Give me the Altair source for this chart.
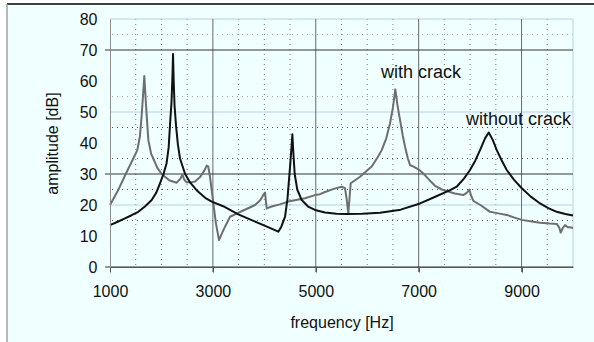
import altair as alt
import pandas as pd

# "with crack" (grey) curve
f_with = [1000, 1150, 1305, 1453, 1530, 1580, 1616, 1645, 1667, 1690, 1713, 1745, 1800, 1842,
          1920, 2005, 2150, 2296, 2370, 2407, 2440, 2490, 2580, 2652, 2750, 2830, 2880, 2911,
          2944, 2975, 3009, 3060, 3119, 3180, 3236, 3333, 3462, 3600, 3719, 3819, 3920, 3981,
          4013, 4046, 4143, 4300, 4467, 4640, 4791, 4985, 5082, 5180, 5350, 5504, 5568, 5600,
          5633, 5655, 5679, 5860, 6087, 6200, 6282, 6370, 6443, 6500, 6546, 6590, 6638, 6690,
          6735, 6790, 6832, 6910, 6994, 7080, 7156, 7240, 7318, 7450, 7545, 7700, 7868, 7940,
          7985, 8020, 8063, 8200, 8387, 8550, 8712, 8850, 9004, 9200, 9360, 9550, 9684, 9730,
          9761, 9800, 9845, 9900, 9943, 10000]
a_with = [20.0, 24.5, 30.0, 35.0, 37.7, 42.0, 49.0, 56.0, 61.6, 55.0, 49.0, 41.0, 36.5, 35.0,
          32.0, 30.0, 28.0, 27.2, 28.5, 29.9, 28.3, 27.3, 27.3, 27.6, 29.0, 31.0, 32.7, 32.4,
          29.1, 25.0, 20.5, 14.0, 8.7, 11.0, 13.0, 16.2, 17.2, 18.3, 19.2, 20.0, 21.5, 23.2,
          24.0, 18.9, 19.5, 20.2, 21.1, 21.7, 22.2, 23.2, 23.5, 24.2, 25.2, 25.9, 25.4, 22.0,
          17.3, 22.0, 27.0, 29.1, 32.4, 35.3, 37.7, 41.5, 46.3, 51.5, 57.3, 52.0, 47.4, 42.5,
          38.8, 35.0, 32.9, 32.3, 31.5, 30.3, 29.0, 27.5, 26.2, 25.0, 24.5, 23.7, 23.2, 24.0,
          25.0, 23.0, 21.3, 20.0, 17.8, 17.3, 16.8, 16.0, 15.2, 14.7, 14.3, 14.0, 13.9, 12.8,
          11.1, 12.5, 13.5, 12.8, 12.8, 12.6]

# "without crack" (black) curve
f_without = [1000, 1150, 1292, 1420, 1550, 1680, 1810, 1900, 1972, 2040, 2100, 2140, 2166, 2195,
             2215, 2225, 2238, 2255, 2283, 2320, 2361, 2460, 2560, 2700, 2850, 2977, 3200, 3494,
             3800, 4050, 4272, 4330, 4402, 4450, 4500, 4530, 4545, 4560, 4590, 4640, 4726, 4850,
             4985, 5180, 5400, 5600, 5900, 6249, 6650, 7027, 7300, 7610, 7739, 7880, 7998, 8100,
             8193, 8290, 8362, 8440, 8518, 8610, 8712, 8850, 9004, 9180, 9360, 9520, 9684, 9850,
             10000]
a_without = [13.5, 14.6, 15.7, 16.7, 17.8, 19.5, 21.6, 24.0, 27.0, 30.0, 33.5, 38.5, 45.7, 53.0,
             62.0, 68.7, 60.0, 52.0, 45.7, 39.5, 35.0, 30.0, 27.2, 24.5, 22.3, 21.1, 19.6, 17.0,
             14.8, 13.0, 11.4, 13.0, 16.2, 22.0, 32.4, 39.0, 42.8, 38.0, 30.0, 25.0, 21.6, 19.5,
             18.4, 17.6, 17.2, 17.1, 17.2, 17.5, 18.5, 20.5, 22.5, 24.8, 25.9, 28.5, 31.3, 34.3,
             37.7, 41.5, 43.4, 41.0, 37.7, 34.5, 31.3, 28.2, 25.4, 22.7, 20.5, 19.0, 17.8, 17.1,
             16.6]

# annotation labels
label_text = ["with crack", "without crack"]
label_f = [7046, 8941]
label_a = [61.1, 45.8]

# tick labels / gridline positions
x_ticks = [1000, 3000, 5000, 7000, 9000]
y_ticks = [0, 10, 20, 30, 40, 50, 60, 70, 80]
x_major = [3000, 5000, 7000, 9000]
x_minor = [1500, 2000, 2500, 3500, 4000, 4500, 5500, 6000, 6500, 7500, 8000, 8500, 9500]
y_solid = [0, 30, 70]
y_blue = [20, 50, 80]
y_dot_dark = [15, 25, 35, 45]
y_dot_light = [55, 75]
x_blue = [10000]

W, H = 463, 248
FONT = "Liberation Sans"

xs = alt.Scale(domain=[1000, 10000], nice=False, zero=False)
ys = alt.Scale(domain=[0, 80], nice=False, zero=True)

x_axis = alt.Axis(values=x_ticks, format="d", grid=False, tickSize=5, labelFlush=False,
                  tickColor="#555555", domainColor="#555555", labelPadding=11,
                  titlePadding=15, zindex=1)
y_axis = alt.Axis(values=y_ticks, format="d", grid=False, ticks=False, labelFlush=False,
                  domainColor="#8c8c8c", labelPadding=13, titlePadding=19, zindex=1)


def X(field):
    return alt.X(field, type="quantitative", scale=xs, title="frequency [Hz]", axis=x_axis)


def Y(field):
    return alt.Y(field, type="quantitative", scale=ys, title="amplitude [dB]", axis=y_axis)


curves = pd.concat([
    pd.DataFrame({"f": f_with, "a": a_with, "s": "with crack"}),
    pd.DataFrame({"f": f_without, "a": a_without, "s": "without crack"}),
])

one = alt.Data(values=[{}])

frame_bg = alt.Chart(one).mark_rect(color="#F0FFFF").encode(
    x=alt.value(-103), x2=alt.value(484), y=alt.value(-15), y2=alt.value(323))
frame_top = alt.Chart(one).mark_rule(color="#000000", strokeWidth=1.5).encode(
    x=alt.value(-103), x2=alt.value(484), y=alt.value(-15))
frame_left = alt.Chart(one).mark_rule(color="#8c8c8c", strokeWidth=1.2).encode(
    x=alt.value(-103), y=alt.value(-15), y2=alt.value(323))


def vrule(vals, **kw):
    return alt.Chart(pd.DataFrame({"f": vals})).mark_rule(**kw).encode(x=X("f"))


def hrule(vals, **kw):
    return alt.Chart(pd.DataFrame({"a": vals})).mark_rule(**kw).encode(y=Y("a"))


g_minor = vrule(x_minor, color="#777777", strokeWidth=1, strokeDash=[1, 4])
g_xblue = vrule(x_blue, color="#b8d0ec", strokeWidth=1)
g_dd = hrule(y_dot_dark, color="#555555", strokeWidth=1, strokeDash=[1, 4])
g_dl = hrule(y_dot_light, color="#a8a8a8", strokeWidth=1, strokeDash=[1, 4])
g_blue = hrule(y_blue, color="#b8d0ec", strokeWidth=1)
g_major = alt.Chart(pd.DataFrame({"f": x_major})).mark_rule(color="#6a6a6a", strokeWidth=1).encode(
    x=X("f"), y=alt.value(0), y2=alt.value(H + 5))
g_solid = alt.Chart(pd.DataFrame({"a": y_solid})).mark_rule(color="#333333", strokeWidth=1).encode(
    y=Y("a"), x=alt.value(-5), x2=alt.value(W))

lines = alt.Chart(curves).mark_line(strokeWidth=2, strokeJoin="round").encode(
    x=X("f"),
    y=Y("a"),
    color=alt.Color("s:N", scale=alt.Scale(domain=["with crack", "without crack"],
                                          range=["#6e6e6e", "#111111"]), legend=None),
    detail="s:N",
    order=alt.Order("f:Q"),
)

labels = alt.Chart(pd.DataFrame({"t": label_text, "f": label_f, "a": label_a})).mark_text(
    font=FONT, fontSize=18, align="center", baseline="alphabetic", color="#111111").encode(
    x=X("f"), y=Y("a"), text="t:N")

chart = alt.layer(
    frame_bg, frame_top, frame_left,
    g_minor, g_dd, g_dl, g_blue, g_xblue, g_major, g_solid,
    lines, labels,
).properties(
    width=W, height=H,
    autosize=alt.AutoSizeParams(type="none"),
    padding={"left": 110, "top": 19, "right": 21, "bottom": 75},
    background="#ffffff",
).configure_view(strokeWidth=0).configure_axis(
    labelFont=FONT, titleFont=FONT, labelFontSize=16, titleFontSize=16,
    titleFontWeight="normal", labelColor="#111111", titleColor="#111111",
)

chart.save("out.html", embed_options={"renderer": "svg", "actions": False})
